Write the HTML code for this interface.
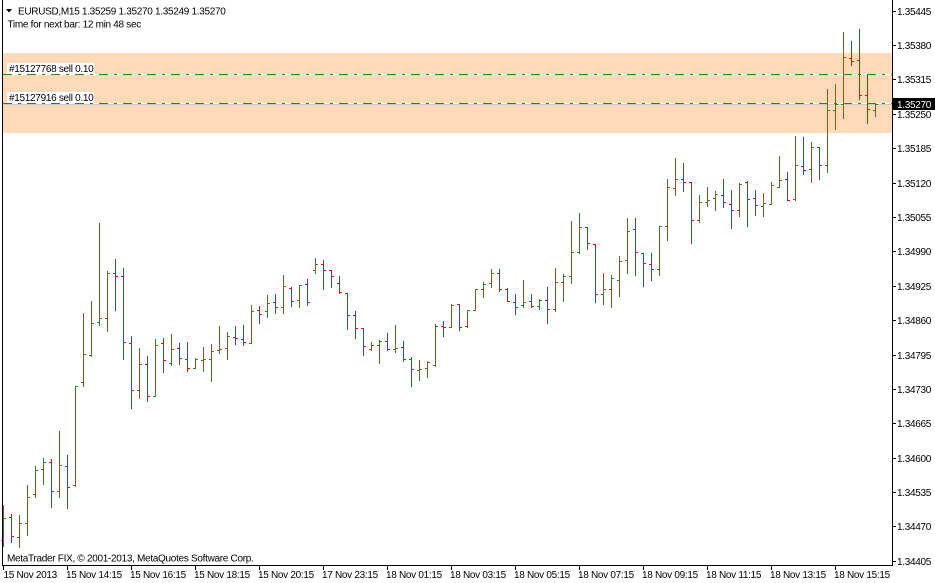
<!DOCTYPE html>
<html>
<head>
<meta charset="utf-8">
<style>
html,body{margin:0;padding:0;background:#fff;}
body{width:935px;height:583px;overflow:hidden;}
svg{display:block;}
text{font-family:"Liberation Sans",sans-serif;font-size:10px;letter-spacing:-0.3px;fill:#000;}
</style>
</head>
<body>
<svg width="935" height="583" viewBox="0 0 935 583" xmlns="http://www.w3.org/2000/svg" shape-rendering="crispEdges">
<rect x="0" y="0" width="935" height="583" fill="#fff"/>
<!-- order band -->
<rect x="3" y="53" width="889" height="80" fill="#FFDAB9"/>
<!-- order lines -->
<line x1="3" y1="74.5" x2="892" y2="74.5" stroke="#fff" stroke-width="1"/>
<line x1="3" y1="74.5" x2="892" y2="74.5" stroke="#1f8a1f" stroke-width="1" stroke-dasharray="9 6 3 6"/>
<line x1="3" y1="103.5" x2="892" y2="103.5" stroke="#fff" stroke-width="1"/>
<line x1="3" y1="103.5" x2="892" y2="103.5" stroke="#1f8a1f" stroke-width="1" stroke-dasharray="9 6 3 6"/>
<line x1="3" y1="104.5" x2="892" y2="104.5" stroke="#c8c8c8" stroke-width="1"/>
<!-- order labels -->
<rect x="7" y="63" width="87" height="11" fill="#fff"/>
<text x="9" y="72">#15127768 sell 0.10</text>
<rect x="7" y="92" width="87" height="11" fill="#fff"/>
<text x="9" y="101">#15127916 sell 0.10</text>
<!-- bars green -->
<path fill="none" stroke="#228B22" stroke-width="1" d="M3.5 505V547M1 540.5H3M4 518.5H6M19.5 515V548M17 537.5H19M20 523.5H22M27.5 485V536M25 523.5H27M28 497.5H30M35.5 466V498M33 494.5H35M36 470.5H38M43.5 458V485M41 469.5H43M44 462.5H46M59.5 431V498M57 491.5H59M60 465.5H62M75.5 386V487M73 485.5H75M76 386.5H78M83.5 313V387M81 382.5H83M84 354.5H86M91.5 301V357M89 355.5H91M92 323.5H94M99.5 223V326M97 322.5H99M100 318.5H102M107.5 271V332M105 318.5H107M108 273.5H110M139.5 348V399M137 390.5H139M140 364.5H142M155.5 339V397M153 396.5H155M156 345.5H158M171.5 334V366M169 363.5H171M172 349.5H174M195.5 358V369M193 368.5H195M196 359.5H198M203.5 347V372M201 360.5H203M204 359.5H206M211.5 344V382M209 359.5H211M212 351.5H214M219.5 326V354M217 350.5H219M220 349.5H222M227.5 332V360M225 348.5H227M228 336.5H230M251.5 305V344M249 343.5H251M252 311.5H254M267.5 295V318M265 311.5H267M268 303.5H270M283.5 275V314M281 307.5H283M284 286.5H286M299.5 285V308M297 300.5H299M300 285.5H302M315.5 258V274M313 270.5H315M316 264.5H318M371.5 342V351M369 349.5H371M372 345.5H374M379.5 340V364M377 345.5H379M380 341.5H382M395.5 325V353M393 349.5H395M396 348.5H398M419.5 360V381M417 370.5H419M420 369.5H422M427.5 361V378M425 368.5H427M428 362.5H430M435.5 324V367M433 365.5H435M436 326.5H438M451.5 304V328M449 327.5H451M452 305.5H454M467.5 310V328M465 326.5H467M468 310.5H470M475.5 289V311M473 310.5H475M476 289.5H478M483.5 282V298M481 289.5H483M484 284.5H486M491.5 269V288M489 283.5H491M492 273.5H494M523.5 280V308M521 305.5H523M524 302.5H526M539.5 299V310M537 306.5H539M540 300.5H542M555.5 268V312M553 309.5H555M556 282.5H558M563.5 274V302M561 282.5H563M564 276.5H566M571.5 221V284M569 276.5H571M572 252.5H574M579.5 213V254M577 252.5H579M580 227.5H582M603.5 273V305M601 294.5H603M604 289.5H606M611.5 275V308M609 289.5H611M612 278.5H614M619.5 256V297M617 280.5H619M620 261.5H622M627.5 218V274M625 260.5H627M628 231.5H630M659.5 226V276M657 269.5H659M660 226.5H662M667.5 179V241M665 226.5H667M668 187.5H670M675.5 158V196M673 188.5H675M676 179.5H678M699.5 195V223M697 220.5H699M700 202.5H702M707.5 187V207M705 202.5H707M708 200.5H710M715.5 191V211M713 198.5H715M716 194.5H718M739.5 183V217M737 210.5H739M740 184.5H742M763.5 193V217M761 206.5H763M764 203.5H766M771.5 182V205M769 204.5H771M772 185.5H774M779.5 156V188M777 187.5H779M780 180.5H782M795.5 136V201M793 199.5H795M796 165.5H798M811.5 142V183M809 169.5H811M812 147.5H814M827.5 89V173M825 165.5H827M828 110.5H830M835.5 84V130M833 110.5H835M836 104.5H838M843.5 32V119M841 104.5H843M844 57.5H846M875.5 103V117M873 110.5H875M876 104.5H878"/>
<!-- bars red -->
<path fill="none" stroke="#FF0000" stroke-width="1" d="M11.5 514V543M9 517.5H11M12 536.5H14M51.5 459V508M49 462.5H51M52 491.5H54M67.5 455V509M65 466.5H67M68 487.5H70M115.5 259V311M113 273.5H115M116 276.5H118M123.5 268V360M121 276.5H123M124 342.5H126M131.5 336V409M129 343.5H131M132 390.5H134M147.5 356V402M145 364.5H147M148 396.5H150M163.5 338V373M161 343.5H163M164 360.5H166M179.5 343V365M177 348.5H179M180 358.5H182M187.5 342V372M185 359.5H187M188 368.5H190M235.5 326V345M233 337.5H235M236 338.5H238M243.5 325V346M241 339.5H243M244 342.5H246M259.5 306V324M257 310.5H259M260 314.5H262M275.5 294V314M273 302.5H275M276 307.5H278M291.5 287V307M289 288.5H291M292 301.5H294M307.5 279V306M305 284.5H307M308 302.5H310M323.5 260V290M321 264.5H323M324 270.5H326M331.5 270V288M329 270.5H331M332 276.5H334M339.5 276V294M337 283.5H339M340 292.5H342M347.5 293V330M345 293.5H347M348 315.5H350M355.5 311V339M353 315.5H355M356 328.5H358M363.5 328V356M361 328.5H363M364 346.5H366M387.5 333V351M385 341.5H387M388 349.5H390M403.5 341V362M401 347.5H403M404 359.5H406M411.5 357V387M409 359.5H411M412 369.5H414M443.5 321V337M441 326.5H443M444 327.5H446M459.5 304V331M457 304.5H459M460 327.5H462M499.5 269V292M497 273.5H499M500 289.5H502M507.5 288V302M505 289.5H507M508 301.5H510M515.5 294V315M513 302.5H515M516 307.5H518M531.5 294V308M529 301.5H531M532 306.5H534M547.5 287V324M545 300.5H547M548 309.5H550M587.5 227V250M585 227.5H587M588 243.5H590M595.5 244V303M593 244.5H595M596 294.5H598M635.5 218V276M633 229.5H635M636 252.5H638M643.5 253V287M641 253.5H643M644 263.5H646M651.5 253V281M649 264.5H651M652 269.5H654M683.5 163V192M681 179.5H683M684 182.5H686M691.5 182V244M689 182.5H691M692 220.5H694M723.5 179V208M721 195.5H723M724 202.5H726M731.5 190V229M729 204.5H731M732 210.5H734M747.5 181V227M745 182.5H747M748 199.5H750M755.5 190V216M753 198.5H755M756 205.5H758M787.5 172V201M785 179.5H787M788 200.5H790M803.5 137V175M801 166.5H803M804 170.5H806M819.5 147V180M817 147.5H819M820 165.5H822M851.5 41V66M849 58.5H851M852 61.5H854M859.5 29V100M857 60.5H859M860 95.5H862M867.5 75V124M865 95.5H867M868 109.5H870"/>
<!-- axes -->
<line x1="2.5" y1="0" x2="2.5" y2="566" stroke="#000" stroke-width="1"/>
<line x1="892.5" y1="0" x2="892.5" y2="566" stroke="#000" stroke-width="1"/>
<line x1="2" y1="565.5" x2="893" y2="565.5" stroke="#000" stroke-width="1"/>
<!-- price ticks -->
<path stroke="#000" stroke-width="1" d="M892 11.5H896M892 45.5H896M892 79.5H896M892 114.5H896M892 148.5H896M892 183.5H896M892 217.5H896M892 251.5H896M892 286.5H896M892 320.5H896M892 355.5H896M892 389.5H896M892 423.5H896M892 458.5H896M892 492.5H896M892 526.5H896M892 561.5H896"/>
<!-- time ticks -->
<path stroke="#000" stroke-width="1" d="M3.5 565V570M67.5 565V570M131.5 565V570M195.5 565V570M259.5 565V570M323.5 565V570M387.5 565V570M451.5 565V570M515.5 565V570M579.5 565V570M643.5 565V570M707.5 565V570M771.5 565V570M835.5 565V570"/>
<!-- price labels -->
<text x="897" y="15">1.35445</text>
<text x="897" y="49">1.35380</text>
<text x="897" y="83">1.35315</text>
<text x="897" y="118">1.35250</text>
<text x="897" y="152">1.35185</text>
<text x="897" y="187">1.35120</text>
<text x="897" y="221">1.35055</text>
<text x="897" y="255">1.34990</text>
<text x="897" y="290">1.34925</text>
<text x="897" y="324">1.34860</text>
<text x="897" y="359">1.34795</text>
<text x="897" y="393">1.34730</text>
<text x="897" y="427">1.34665</text>
<text x="897" y="462">1.34600</text>
<text x="897" y="496">1.34535</text>
<text x="897" y="530">1.34470</text>
<text x="897" y="565">1.34405</text>
<!-- current price box -->
<rect x="893" y="98" width="42" height="12" fill="#000"/>
<text x="897" y="108" style="fill:#fff">1.35270</text>
<!-- time labels -->
<text x="3.5" y="578">15 Nov 2013</text>
<text x="66" y="578">15 Nov 14:15</text>
<text x="130" y="578">15 Nov 16:15</text>
<text x="194" y="578">15 Nov 18:15</text>
<text x="258" y="578">15 Nov 20:15</text>
<text x="322" y="578">17 Nov 23:15</text>
<text x="386" y="578">18 Nov 01:15</text>
<text x="450" y="578">18 Nov 03:15</text>
<text x="514" y="578">18 Nov 05:15</text>
<text x="578" y="578">18 Nov 07:15</text>
<text x="642" y="578">18 Nov 09:15</text>
<text x="706" y="578">18 Nov 11:15</text>
<text x="770" y="578">18 Nov 13:15</text>
<text x="834" y="578">18 Nov 15:15</text>
<!-- header -->
<polygon points="6,9 12,9 9,12.5" fill="#000" shape-rendering="auto"/>
<text x="18" y="14.5">EURUSD,M15  1.35259 1.35270 1.35249 1.35270</text>
<text x="7.5" y="27.5">Time for next bar: 12 min 48 sec</text>
<!-- footer -->
<text x="7" y="561.5">MetaTrader FIX, © 2001-2013, MetaQuotes Software Corp.</text>
</svg>
</body>
</html>
